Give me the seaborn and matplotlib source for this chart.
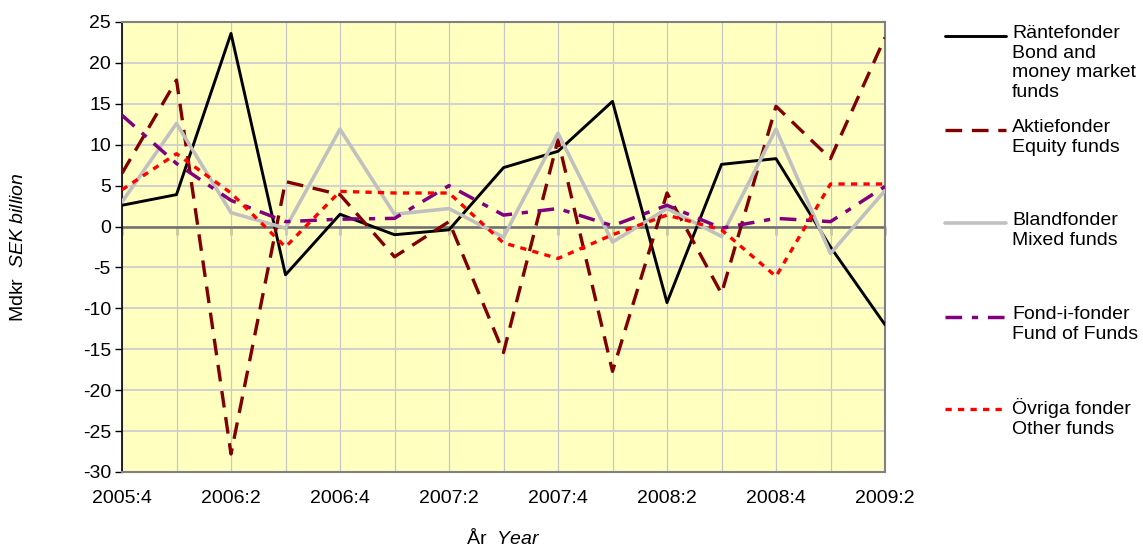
import matplotlib.pyplot as plt
import matplotlib.lines as mlines
import seaborn as sns
import pandas as pd

# Net flows per quarter, Mdkr (SEK billion)
quarters = ["2005:4", "2006:1", "2006:2", "2006:3", "2006:4", "2007:1", "2007:2", "2007:3",
            "2007:4", "2008:1", "2008:2", "2008:3", "2008:4", "2009:1", "2009:2"]
rantefonder = [2.6, 3.9, 23.6, -5.9, 1.5, -1.0, -0.4, 7.2, 9.2, 15.3, -9.3, 7.6, 8.3, -2.5, -12.0]
aktiefonder = [6.5, 17.9, -27.8, 5.5, 3.9, -3.7, 0.6, -15.4, 10.6, -17.7, 4.1, -8.2, 14.7, 8.3, 23.1]
blandfonder = [3.0, 12.6, 1.7, -0.2, 11.9, 1.5, 2.2, -1.3, 11.4, -1.9, 2.2, -1.2, 11.9, -3.3, 4.4]
fond_i_fonder = [13.6, 7.7, 3.2, 0.6, 0.9, 1.0, 5.0, 1.4, 2.2, 0.1, 2.6, -0.2, 1.0, 0.6, 4.9]
ovriga = [4.5, 8.9, 4.1, -2.5, 4.3, 4.1, 4.1, -2.0, -3.9, -1.0, 1.4, -0.4, -6.1, 5.2, 5.2]

labels = ["Räntefonder\nBond and\nmoney market\nfunds", "Aktiefonder\nEquity funds",
          "Blandfonder\nMixed funds", "Fond-i-fonder\nFund of Funds", "Övriga fonder\nOther funds"]
series = [rantefonder, aktiefonder, blandfonder, fond_i_fonder, ovriga]

colors = ["#000000", "#800000", "#C0C0C0", "#800080", "#FF0000"]
styles = ["-", (0, (12, 7)), "-", (0, (12, 7, 4.5, 7)), (0, (4.5, 4.5))]
widths = [2.1, 2.4, 2.6, 2.5, 2.4]

sns.set_style("white")
plt.rcParams["font.family"] = ["Liberation Sans", "DejaVu Sans"]
plt.rcParams["font.size"] = 14
plt.rcParams["text.color"] = "black"
plt.rcParams["axes.labelcolor"] = "black"
plt.rcParams["xtick.color"] = "black"
plt.rcParams["ytick.color"] = "black"
plt.rcParams["axes.unicode_minus"] = False
plt.rcParams["lines.scale_dashes"] = False
plt.rcParams["mathtext.fontset"] = "custom"
plt.rcParams["mathtext.rm"] = "Liberation Sans"
plt.rcParams["mathtext.it"] = "Liberation Sans:italic"

fig = plt.figure(figsize=(11.43, 5.47), dpi=100)
ax = fig.add_axes([122 / 1143, 75 / 547, 763 / 1143, 450 / 547])
ax.set_facecolor("#FFFFC0")

pos = list(range(len(quarters)))
for vals, c, ls, lw in zip(series, colors, styles, widths):
    df = pd.DataFrame({"pos": pos, "value": vals})
    sns.lineplot(data=df, x="pos", y="value", color=c, linestyle=ls, linewidth=lw,
                 ax=ax, zorder=3)

ax.set_xlim(0, len(quarters) - 1)
ax.set_ylim(-30, 25)
ax.set_yticks(range(-30, 26, 5))
ax.set_xticks(pos)
ax.set_xticklabels([q if i % 2 == 0 else "" for i, q in enumerate(quarters)])
ax.grid(True, axis="y", color="#CFCFCF", linewidth=1.3)
ax.grid(True, axis="x", color="#C8C8C8", linewidth=0.9)
ax.set_axisbelow(True)
ax.tick_params(axis="x", length=0, pad=13)
ax.tick_params(axis="y", length=5, width=1, color="black", pad=3, left=True)

for side in ["top", "right", "bottom"]:
    ax.spines[side].set_color("#808080")
    ax.spines[side].set_linewidth(1.5)
ax.spines["left"].set_color("black")
ax.spines["left"].set_linewidth(1.2)

# zero line with category ticks
ax.axhline(0, color="#707070", linewidth=1.8, zorder=2)
sec = ax.secondary_xaxis(30 / 55)
sec.set_alignment("bottom")
sec.set_xticks(pos)
sec.tick_params(direction="out", length=6, width=1, color="black", labelbottom=False, labeltop=False)
for side in ["top", "bottom"]:
    sec.spines[side].set_color("#707070")
    sec.spines[side].set_linewidth(1.0)

ax.set_xlabel(r"År  $\mathit{Year}$", fontsize=14)
ax.set_ylabel(r"Mdkr  $\mathit{SEK\ billion}$", fontsize=14)
ax.xaxis.set_label_coords(0.5, -0.125)
ax.yaxis.set_label_coords(-0.124, 0.5)

# legend drawn at the right side
entry_y = [36, 130, 223, 317, 409]
for lab, c, ls, lw, yc in zip(labels, colors, styles, widths, entry_y):
    yf = 1 - yc / 547
    fig.add_artist(mlines.Line2D([945 / 1143, 1006 / 1143], [yf, yf], color=c,
                                 linestyle=ls, linewidth=lw, transform=fig.transFigure))
    fig.text(1012 / 1143, 1 - (yc - 11) / 547, lab, ha="left", va="top", fontsize=14,
             linespacing=1.2)

fig.savefig("out.png", dpi=100)
